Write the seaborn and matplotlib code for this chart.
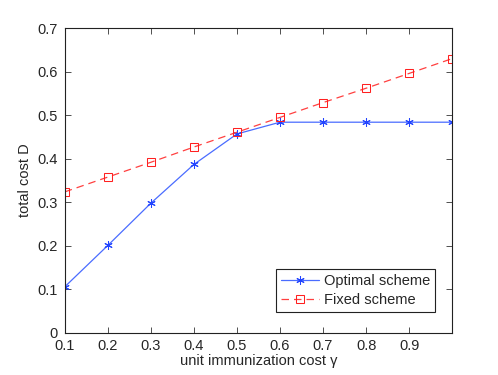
import seaborn as sns
import matplotlib.pyplot as plt
import pandas as pd

sns.set_style("ticks")
plt.rcParams['font.family'] = ['Liberation Sans', 'DejaVu Sans']

gamma = [0.1, 0.2, 0.3, 0.4, 0.5, 0.6, 0.7, 0.8, 0.9, 1.0]
optimal = [0.106, 0.201, 0.298, 0.387, 0.457, 0.484, 0.484, 0.484, 0.484, 0.484]
fixed = [0.324, 0.358, 0.392, 0.427, 0.461, 0.495, 0.529, 0.562, 0.596, 0.630]
xticks = [0.1, 0.2, 0.3, 0.4, 0.5, 0.6, 0.7, 0.8, 0.9]
yticks = [0, 0.1, 0.2, 0.3, 0.4, 0.5, 0.6, 0.7]

data = pd.DataFrame({"gamma": gamma, "Optimal scheme": optimal, "Fixed scheme": fixed})

fig = plt.figure(figsize=(4.98, 3.75), dpi=100)
ax = fig.add_axes([0.130, 0.112, 0.778, 0.813])

sns.lineplot(data=data, x="gamma", y="Optimal scheme", ax=ax, color="#4a6cff",
             marker=(6, 2, 0), markersize=6, markeredgecolor="#2244ff",
             linewidth=0.9, label="Optimal scheme")
sns.lineplot(data=data, x="gamma", y="Fixed scheme", ax=ax, color="#ff4040",
             marker="s", markersize=6, markerfacecolor="none", markeredgecolor="#ff2020",
             linewidth=0.9, linestyle=(0, (6, 4)), label="Fixed scheme")

ax.set_xlim(0.1, 1.0)
ax.set_ylim(0, 0.7)
ax.set_xticks(xticks)
ax.set_yticks(yticks)
ax.set_xticklabels([f"{t:g}" for t in xticks], fontsize=10.5)
ax.set_yticklabels([f"{t:g}" for t in yticks], fontsize=10.5)
ax.tick_params(direction="in", top=True, right=True, length=4, width=0.6, color="#333333")
ax.tick_params(axis="x", pad=4)
ax.tick_params(axis="y", pad=5)
for s in ax.spines.values():
    s.set_linewidth(0.8)
    s.set_color("#222222")
ax.set_xlabel("unit immunization cost γ", fontsize=10.5, labelpad=1)
ax.set_ylabel("total cost D", fontsize=10.5, labelpad=4)

leg = ax.legend(loc="lower right", bbox_to_anchor=(0.956, 0.069), borderaxespad=0,
                fontsize=10.5, frameon=True, fancybox=False, edgecolor="#222222",
                framealpha=1, handlelength=2.6, borderpad=0.35, labelspacing=0.35,
                handletextpad=0.3)
leg.get_frame().set_linewidth(0.8)

plt.savefig("out.png", dpi=100)
